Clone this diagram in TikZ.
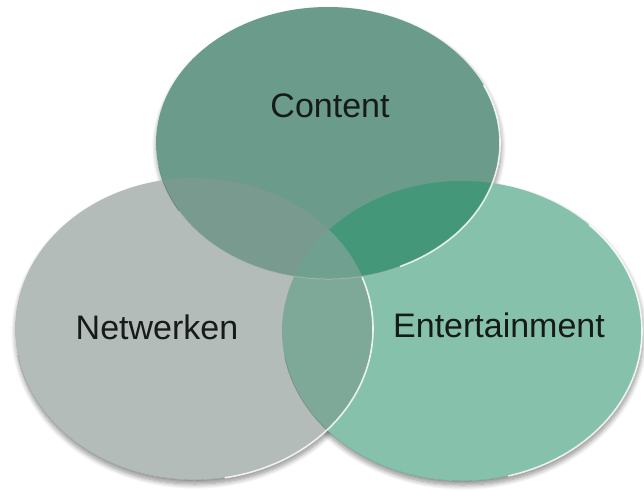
\documentclass[tikz,border=0pt]{standalone}
\usepackage{fontspec}
\setmainfont{Liberation Sans}
\usetikzlibrary{shadows.blur}
\definecolor{colC}{HTML}{6A9B8B}
\definecolor{colN}{HTML}{B3BCB9}
\definecolor{colE}{HTML}{86C2AB}
\definecolor{colCE}{HTML}{45977A}
\definecolor{colCN}{HTML}{789A8F}
\definecolor{colNE}{HTML}{7EA898}
\definecolor{colCNE}{HTML}{6FA090}
\definecolor{txt}{HTML}{161A18}
\tikzset{
  shad/.style={fill=white, draw=none, blur shadow={shadow xshift=1pt, shadow yshift=-4pt, shadow blur radius=5pt, shadow blur steps=10, shadow opacity=45}},
  hilite/.style={draw=white, line width=1.6pt, opacity=0.85, line cap=round},
  rim/.style={draw=black, line width=0.8pt, opacity=0.15, line cap=round},
  lbl/.style={text=txt, font=\fontsize{34}{40}\selectfont, inner sep=0pt}
}
\begin{document}
\begin{tikzpicture}[x=1pt,y=-1pt]
\useasboundingbox (0,0) rectangle (644,490);
\coordinate (cC) at (328,143);
\coordinate (cN) at (194,329);
\coordinate (cE) at (462,331);
\def\ellC{(cC) ellipse [x radius=172, y radius=136]}
\def\ellN{(cN) ellipse [x radius=179, y radius=151]}
\def\ellE{(cE) ellipse [x radius=180, y radius=150]}
% shadows
\path[shad] \ellE;
\path[shad] \ellN;
\path[shad] \ellC;
% base fills
\fill[colE] \ellE;
\fill[colN] \ellN;
\fill[colC] \ellC;
% pairwise overlaps
\begin{scope}
  \clip \ellC;
  \fill[colCE] \ellE;
  \fill[colCN] \ellN;
\end{scope}
\begin{scope}
  \clip \ellN;
  \fill[colNE] \ellE;
\end{scope}
\begin{scope}
  \clip \ellC;
  \clip \ellN;
  \fill[colCNE] \ellE;
\end{scope}
% rims (lower parts only) and highlights
\draw[rim] (cE) ++(10:180 and 150) arc[start angle=10, end angle=170, x radius=180, y radius=150];
\draw[rim] (cN) ++(10:179 and 151) arc[start angle=10, end angle=170, x radius=179, y radius=151];
\draw[rim] (cC) ++(10:172 and 136) arc[start angle=10, end angle=170, x radius=172, y radius=136];
\draw[hilite] (cE) ++(-45:180 and 150) arc[start angle=-45, end angle=75, x radius=180, y radius=150];
\draw[hilite] (cN) ++(-20:179 and 151) arc[start angle=-20, end angle=80, x radius=179, y radius=151];
\draw[hilite] (cC) ++(-25:172 and 136) arc[start angle=-25, end angle=65, x radius=172, y radius=136];
\draw[draw=white, line width=1pt, opacity=0.35] (cC) ++(65:172 and 136) arc[start angle=65, end angle=150, x radius=172, y radius=136];
% labels
\node[lbl] (tC) at (330,106) {Content};
\node[lbl] (tN) at (157,327) {Netwerken};
\node[lbl] (tE) at (499,325) {Entertainment};
\end{tikzpicture}
\end{document}
